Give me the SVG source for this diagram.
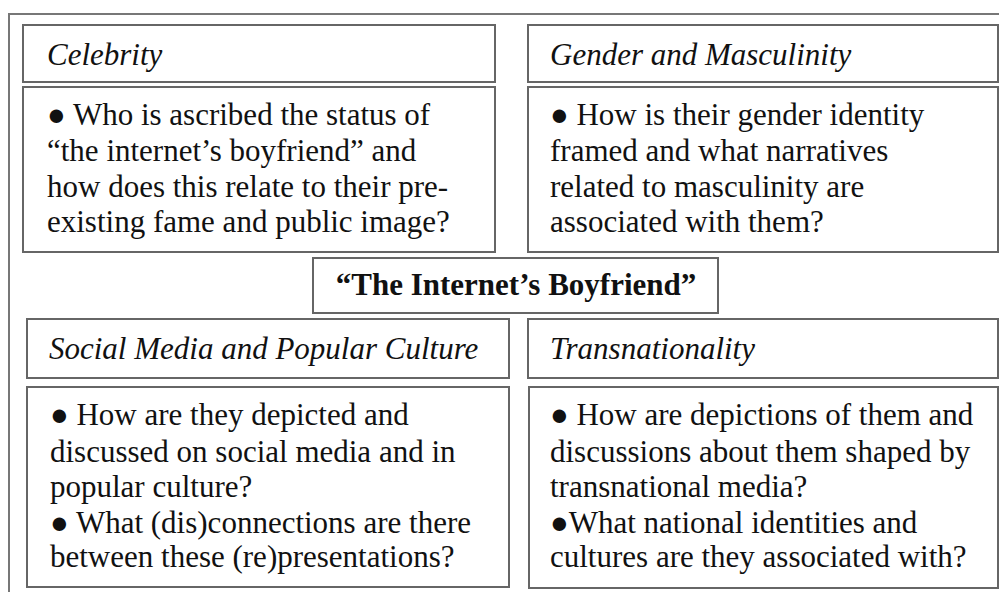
<svg xmlns="http://www.w3.org/2000/svg" width="999" height="592" viewBox="0 0 999 592">
<style>
.box{fill:#fff;stroke:#666;stroke-width:2}
.frame{fill:#fff;stroke:#777;stroke-width:2}
.h{font-family:"Liberation Serif","Times New Roman",serif;font-style:italic;font-size:31px;fill:#111}
.b{font-family:"Liberation Serif","Times New Roman",serif;font-size:31px;fill:#111}
.c{font-family:"Liberation Serif","Times New Roman",serif;font-weight:bold;font-size:31px;fill:#111}
</style>
<rect width="999" height="592" fill="#fff"/>
<rect class="frame" x="9" y="14" width="1000" height="600"/>
<g id="connectors"></g>
<g id="celebrity-header">
<rect class="box" x="23" y="25" width="472" height="57"/>
<text class="h" x="47" y="65">Celebrity</text>
</g>
<g id="celebrity-body">
<rect class="box" x="23" y="87" width="472" height="165"/>
<text class="b" x="47" y="125">● Who is ascribed the status of</text>
<text class="b" x="47" y="161">“the internet’s boyfriend” and</text>
<text class="b" x="47" y="197">how does this relate to their pre-</text>
<text class="b" x="47" y="232">existing fame and public image?</text>
</g>
<g id="gender-header">
<rect class="box" x="528" y="25" width="470" height="57"/>
<text class="h" x="550" y="65">Gender and Masculinity</text>
</g>
<g id="gender-body">
<rect class="box" x="528" y="87" width="470" height="165"/>
<text class="b" x="550" y="125">● How is their gender identity</text>
<text class="b" x="550" y="161">framed and what narratives</text>
<text class="b" x="550" y="197">related to masculinity are</text>
<text class="b" x="550" y="232">associated with them?</text>
</g>
<g id="center">
<rect class="box" x="313" y="258" width="405" height="55"/>
<text class="c" x="516" y="295" text-anchor="middle">“The Internet’s Boyfriend”</text>
</g>
<g id="social-header">
<rect class="box" x="27" y="319" width="482" height="59"/>
<text class="h" x="49" y="359">Social Media and Popular Culture</text>
</g>
<g id="social-body">
<rect class="box" x="27" y="387" width="482" height="200"/>
<text class="b" x="50" y="425">● How are they depicted and</text>
<text class="b" x="50" y="462">discussed on social media and in</text>
<text class="b" x="50" y="497">popular culture?</text>
<text class="b" x="50" y="533">● What (dis)connections are there</text>
<text class="b" x="50" y="567">between these (re)presentations?</text>
</g>
<g id="trans-header">
<rect class="box" x="528" y="319" width="470" height="59"/>
<text class="h" x="550" y="359">Transnationality</text>
</g>
<g id="trans-body">
<rect class="box" x="529" y="387" width="469" height="201"/>
<text class="b" x="550" y="425">● How are depictions of them and</text>
<text class="b" x="550" y="462">discussions about them shaped by</text>
<text class="b" x="550" y="497">transnational media?</text>
<text class="b" x="550" y="533">●What national identities and</text>
<text class="b" x="550" y="567">cultures are they associated with?</text>
</g>
</svg>
